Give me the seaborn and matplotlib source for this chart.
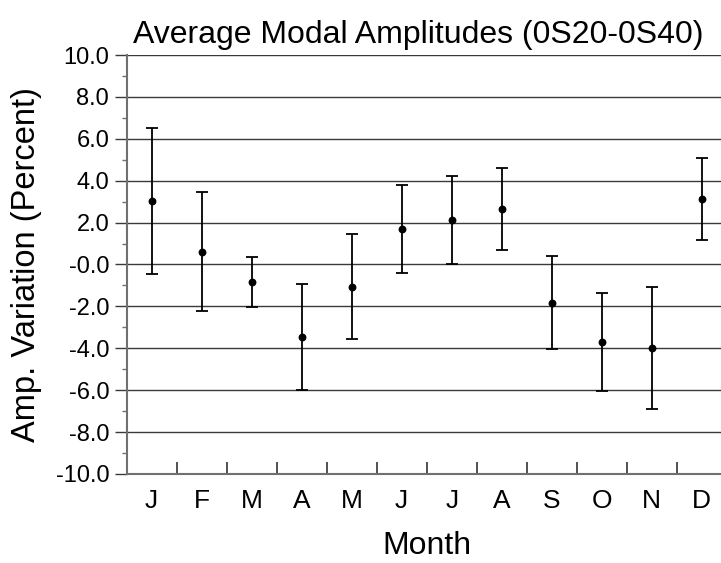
import numpy as np
import pandas as pd
import matplotlib
matplotlib.use("Agg")
import matplotlib.pyplot as plt
import seaborn as sns
from matplotlib.ticker import MultipleLocator, FixedLocator

# Monthly mean amplitude variation and its uncertainty (percent)
months = ["J", "F", "M", "A", "M", "J", "J", "A", "S", "O", "N", "D"]
mean_pct = [3.03, 0.61, -0.85, -3.45, -1.06, 1.68, 2.12, 2.67, -1.82, -3.68, -3.99, 3.12]
err_pct = [3.50, 2.85, 1.19, 2.52, 2.51, 2.10, 2.12, 1.96, 2.22, 2.34, 2.90, 1.96]
y_ticks = [-10.0, -8.0, -6.0, -4.0, -2.0, 0.0, 2.0, 4.0, 6.0, 8.0, 10.0]
y_tick_labels = ["-10.0", "-8.0", "-6.0", "-4.0", "-2.0", "-0.0",
                 "2.0", "4.0", "6.0", "8.0", "10.0"]

df = pd.DataFrame({"idx": np.arange(len(months)), "month": months,
                   "mean": mean_pct, "err": err_pct})

sns.set_theme(style="white")
plt.rcParams["font.family"] = ["Liberation Sans", "DejaVu Sans"]
plt.rcParams["text.color"] = "black"
plt.rcParams["axes.labelcolor"] = "black"
plt.rcParams["xtick.labelcolor"] = "black"
plt.rcParams["ytick.labelcolor"] = "black"

fig = plt.figure(figsize=(7.21, 5.63), dpi=100)
ax = fig.add_axes([0.1757, 0.1581, 0.8322, 0.7442])

grid_c = "#3a3a3a"
spine_c = "#707070"

# horizontal reference lines at the even values
for v in y_ticks[1:]:
    ax.axhline(v, color=grid_c, lw=1.0, zorder=1)

ax.errorbar(df["idx"], df["mean"], yerr=df["err"], fmt="none",
            ecolor="black", elinewidth=1.3, capsize=4, capthick=1.3, zorder=3)
sns.scatterplot(data=df, x="idx", y="mean", ax=ax, color="black", s=32,
                edgecolor="black", linewidth=0, zorder=4, legend=False)

ax.set_xlim(-0.5, 11.5)
ax.set_ylim(-10, 10)

ax.set_yticks(y_ticks)
ax.set_yticklabels(y_tick_labels, fontsize=17)
ax.yaxis.set_minor_locator(MultipleLocator(1.0))
ax.tick_params(axis="y", which="major", direction="out", length=8.6,
               width=1.0, color=grid_c, pad=4, left=True)
ax.tick_params(axis="y", which="minor", direction="out", length=3.6,
               width=1.0, color=spine_c, left=True)

ax.set_xticks(df["idx"])
ax.set_xticklabels(months, fontsize=19)
ax.xaxis.set_minor_locator(FixedLocator(np.arange(0.5, 11.5, 1.0)))
ax.tick_params(axis="x", which="major", length=0, pad=11)
ax.tick_params(axis="x", which="minor", direction="in", length=8.6,
               width=1.2, color="#333333", bottom=True)

for s in ["top", "right"]:
    ax.spines[s].set_visible(False)
for s in ["left", "bottom"]:
    ax.spines[s].set_color(spine_c)
    ax.spines[s].set_linewidth(1.5)

ax.set_xlabel("Month", fontsize=23, labelpad=13)
ax.set_ylabel("Amp. Variation (Percent)", fontsize=23.5, labelpad=10)
ax.set_title("Average Modal Amplitudes (0S20-0S40)", fontsize=23, pad=9)
ax.title.set_x(0.486)

fig.savefig("out.png", dpi=100)
